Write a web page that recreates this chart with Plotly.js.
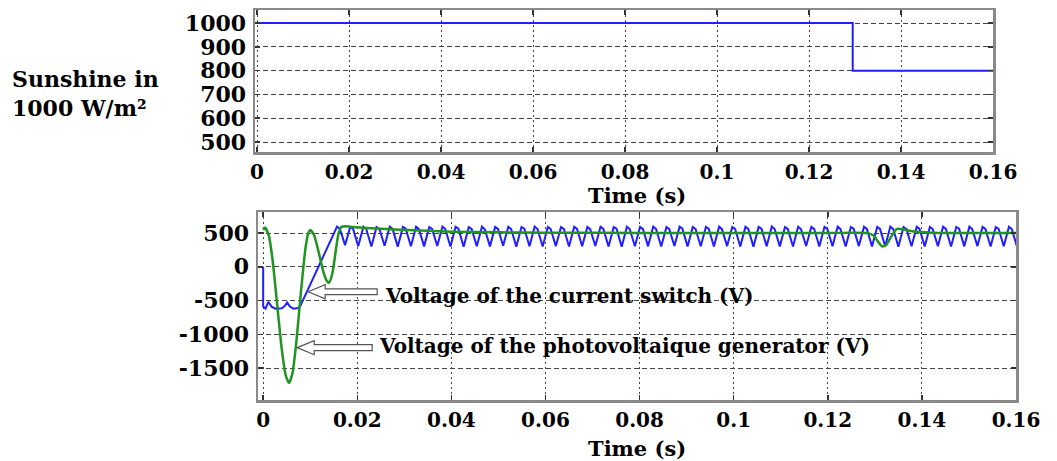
<!DOCTYPE html>
<html>
<head>
<meta charset="utf-8">
<script src="https://cdn.plot.ly/plotly-3.0.1.min.js"></script>
<style>
html,body{margin:0;padding:0;background:#fff;}
#chart{width:1057px;height:461px;}
</style>
</head>
<body>
<div id="chart"></div>
<script>
// ---------- data ----------
// Top panel: sunshine (W/m²)
const sunTime = [0, 0.1295, 0.1295, 0.16];
const sunValue = [1000, 1000, 800, 800];

// Bottom panel: voltage of the current switch (V)
const switchTime = [
  0, 0, 0.0005, 0.0011, 0.0018, 0.0026, 0.0040, 0.0046, 0.0051, 0.0057, 0.0064, 0.0074, 0.0079, 0.0117,
  0.0157, 0.0163, 0.0174, 0.0185, 0.0191, 0.0202, 0.0213, 0.0219, 0.0230, 0.0241, 0.0247, 0.0258,
  0.0269, 0.0275, 0.0286, 0.0297, 0.0303, 0.0314, 0.0325, 0.0331, 0.0342, 0.0353, 0.0359, 0.0370,
  0.0381, 0.0387, 0.0398, 0.0409, 0.0415, 0.0426, 0.0437, 0.0443, 0.0454, 0.0465, 0.0471, 0.0482,
  0.0493, 0.0499, 0.0510, 0.0521, 0.0527, 0.0538, 0.0549, 0.0555, 0.0566, 0.0577, 0.0583, 0.0594,
  0.0605, 0.0611, 0.0622, 0.0633, 0.0639, 0.0650, 0.0661, 0.0667, 0.0678, 0.0689, 0.0695, 0.0706,
  0.0717, 0.0723, 0.0734, 0.0745, 0.0751, 0.0762, 0.0773, 0.0779, 0.0790, 0.0801, 0.0807, 0.0818,
  0.0829, 0.0835, 0.0846, 0.0857, 0.0863, 0.0874, 0.0885, 0.0891, 0.0902, 0.0913, 0.0919, 0.0930,
  0.0941, 0.0947, 0.0958, 0.0969, 0.0975, 0.0986, 0.0997, 0.1003, 0.1014, 0.1025, 0.1031, 0.1042,
  0.1053, 0.1059, 0.1070, 0.1081, 0.1087, 0.1098, 0.1109, 0.1115, 0.1126, 0.1137, 0.1143, 0.1154,
  0.1165, 0.1171, 0.1182, 0.1193, 0.1199, 0.1210, 0.1221, 0.1227, 0.1238, 0.1249, 0.1255, 0.1266,
  0.1277, 0.1283, 0.1294, 0.1305, 0.1311, 0.1322, 0.1333, 0.1339, 0.1350, 0.1361, 0.1367, 0.1378,
  0.1389, 0.1395, 0.1406, 0.1417, 0.1423, 0.1434, 0.1445, 0.1451, 0.1462, 0.1473, 0.1479, 0.1490,
  0.1501, 0.1507, 0.1518, 0.1529, 0.1535, 0.1546, 0.1557, 0.1563, 0.1574, 0.1585, 0.1591, 0.1602
];
const switchVoltage = [
  0, -590, -620, -520, -590, -620, -615, -580, -530, -590, -620, -610, -580, 0,
  595, 560, 320, 590, 565, 305, 592, 558, 300, 588, 562, 310, 594, 560, 298,
  590, 563, 305, 593, 557, 302, 589, 561, 308, 595, 559, 300, 591, 564, 296,
  588, 560, 305, 594, 556, 302, 590, 562, 310, 592, 559, 298, 589, 563, 304,
  595, 560, 300, 591, 558, 306, 588, 562, 299, 593, 560, 303, 590, 557, 308,
  594, 561, 300, 589, 563, 297, 592, 559, 305, 590, 562, 302, 595, 558, 300,
  588, 560, 307, 593, 564, 299, 590, 559, 304, 591, 561, 300, 594, 557, 306,
  589, 562, 301, 592, 560, 298, 590, 563, 305, 595, 558, 302, 588, 561, 300,
  593, 559, 308, 590, 562, 300, 591, 560, 304, 594, 557, 299, 589, 563, 306,
  592, 560, 301, 590, 561, 303, 595, 559, 298, 588, 562, 305, 593, 560, 300,
  590, 558, 304, 592, 561, 300, 589, 563, 302, 594, 559, 306, 591, 560, 299,
  588, 562, 304, 593, 558, 300
];

// Bottom panel: voltage of the photovoltaique generator (V)
const pvTime = [
  0, 0.0004, 0.0012, 0.002, 0.003, 0.004, 0.0048, 0.0055, 0.0062, 0.007, 0.008, 0.009, 0.0096, 0.0100,
  0.0108, 0.0118, 0.0128, 0.0135, 0.0140, 0.0147, 0.0155, 0.0160, 0.0166, 0.0175, 0.019, 0.022, 0.026,
  0.032, 0.04, 0.05, 0.06, 0.08, 0.1, 0.12, 0.1285, 0.1298, 0.1308, 0.1316, 0.1325, 0.1335, 0.1347,
  0.136, 0.138, 0.142, 0.15, 0.16
];
const pvVoltage = [
  545, 580, 460, 100, -580, -1250, -1610, -1720, -1584, -1150, -390, 280, 500, 545,
  470, 215, -76, -207, -237, -100, 275, 486, 590, 600, 590, 575, 560,
  540, 520, 510, 505, 500, 500, 500, 498, 460, 360, 300, 330, 450, 560,
  555, 525, 505, 500, 500
];

// Tick labels
const timeTicks = [0, 0.02, 0.04, 0.06, 0.08, 0.1, 0.12, 0.14, 0.16];
const timeTickText = ["0", "0.02", "0.04", "0.06", "0.08", "0.1", "0.12", "0.14", "0.16"];
const sunTicks = [500, 600, 700, 800, 900, 1000];
const sunTickText = ["500", "600", "700", "800", "900", "1000"];
const voltTicks = [-1500, -1000, -500, 0, 500];
const voltTickText = ["-1500", "-1000", "-500", "0", "500"];

// ---------- layout ----------
const W = 1057, H = 461;
const FONT = "DejaVu Serif";
const tickFont = {family: FONT, size: 22, color: "#000", weight: "bold"};
const xTickFont = {family: FONT, size: 20, color: "#000", weight: "bold"};

function axisBase() {
  return {
    showline: true, mirror: "ticks", linecolor: "#8a8a8a", linewidth: 2.5,
    ticks: "inside", ticklen: 5, tickwidth: 1.5, tickcolor: "#333",
    showgrid: true, gridcolor: "#444", gridwidth: 1,
    zeroline: false, tickfont: tickFont, fixedrange: true
  };
}

const xTop = Object.assign(axisBase(), {
  domain: [255 / W, 993 / W], range: [-0.00044, 0.16], anchor: "y",
  tickmode: "array", tickvals: timeTicks, ticktext: timeTickText,
  griddash: "2px,3px", tickfont: xTickFont
});
const yTop = Object.assign(axisBase(), {
  domain: [1 - 152 / H, 1 - 10 / H], range: [458, 1055], anchor: "x",
  tickmode: "array", tickvals: sunTicks, ticktext: sunTickText,
  griddash: "5px,3px", ticklabelstandoff: 2
});
const xBot = Object.assign(axisBase(), {
  domain: [258 / W, 1016 / W], range: [-0.0011, 0.16], anchor: "y2",
  tickmode: "array", tickvals: timeTicks, ticktext: timeTickText,
  griddash: "2px,3px", tickfont: xTickFont
});
const yBot = Object.assign(axisBase(), {
  domain: [1 - 400 / H, 1 - 212 / H], range: [-1973, 811], anchor: "x2",
  tickmode: "array", tickvals: voltTicks, ticktext: voltTickText,
  griddash: "5px,3px", ticklabelstandoff: 2
});

const traces = [
  {x: sunTime, y: sunValue, xaxis: "x", yaxis: "y", mode: "lines",
   line: {color: "#1f1fff", width: 2}, hoverinfo: "skip"},
  {x: switchTime, y: switchVoltage, xaxis: "x2", yaxis: "y2", mode: "lines",
   line: {color: "#1f1fff", width: 2}, hoverinfo: "skip"},
  {x: pvTime, y: pvVoltage, xaxis: "x2", yaxis: "y2", mode: "lines",
   line: {color: "#1f951f", width: 2.5, shape: "spline", smoothing: 0.6}, hoverinfo: "skip"}
];

const labelFont = {family: FONT, size: 22, color: "#000", weight: "bold"};
const annFont = {family: FONT, size: 20, color: "#000", weight: "bold"};
const titleFont = {family: FONT, size: 21, color: "#000", weight: "bold"};

const annotations = [
  {xref: "paper", yref: "paper", x: 10 / W, y: 1 - 94 / H, xanchor: "left", yanchor: "middle",
   align: "left", showarrow: false, text: "Sunshine in<br>1000 W/m²", font: labelFont},
  {xref: "paper", yref: "paper", x: 637 / W, y: 1 - 195 / H, xanchor: "center", yanchor: "middle",
   showarrow: false, text: "Time (s)", font: titleFont},
  {xref: "paper", yref: "paper", x: 637 / W, y: 1 - 448 / H, xanchor: "center", yanchor: "middle",
   showarrow: false, text: "Time (s)", font: titleFont},
  {xref: "x2", yref: "y2", x: 0.0255, y: -429, xanchor: "left", yanchor: "middle",
   showarrow: false, text: "Voltage of the current switch (V)", font: annFont},
  {xref: "x2", yref: "y2", x: 0.0242, y: -1169, xanchor: "left", yanchor: "middle",
   showarrow: false, text: "Voltage of the photovoltaique generator (V)", font: annFont}
];

// hollow block arrows
const shapes = [
  {type: "path", xref: "x2", yref: "y2",
   path: "M 0.00956,-370 L 0.01318,-266 L 0.01318,-326 L 0.02423,-326 L 0.02423,-414 L 0.01318,-414 L 0.01318,-474 Z",
   line: {color: "#555", width: 1.2}, fillcolor: "rgba(255,255,255,1)"},
  {type: "path", xref: "x2", yref: "y2",
   path: "M 0.00723,-1198 L 0.01084,-1094 L 0.01084,-1154 L 0.02317,-1154 L 0.02317,-1242 L 0.01084,-1242 L 0.01084,-1302 Z",
   line: {color: "#555", width: 1.2}, fillcolor: "rgba(255,255,255,1)"}
];

const layout = {
  width: W, height: H,
  margin: {l: 0, r: 0, t: 0, b: 0},
  paper_bgcolor: "#fff", plot_bgcolor: "#fff",
  showlegend: false,
  xaxis: xTop, yaxis: yTop, xaxis2: xBot, yaxis2: yBot,
  annotations: annotations, shapes: shapes
};

Plotly.newPlot("chart", traces, layout, {staticPlot: true, displayModeBar: false});
</script>
</body>
</html>
